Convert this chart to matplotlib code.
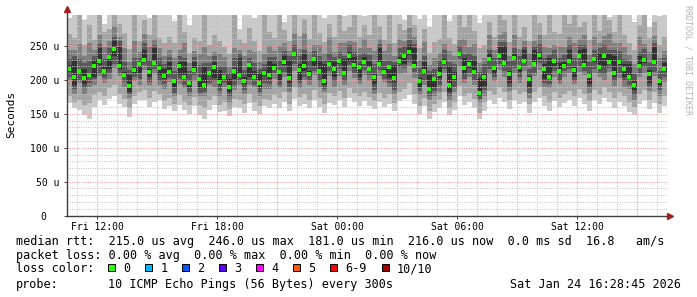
import numpy as np
import matplotlib.pyplot as plt
from matplotlib.patches import Rectangle

# canvas geometry (pixels)
W, H = 697, 297

# --- data: 120 samples, 15 min apart, Fri 10:28:45 -> Sat 16:28:45 (values in microseconds)
t_start = 10 + 28.75 / 60   # hours since Fri 00:00
t_step = 0.25

med = [216, 204, 213, 203, 207, 220, 228, 214, 234, 246, 221, 208, 191, 215, 224, 230, 212, 225, 218, 206,
       212, 198, 221, 205, 196, 215, 201, 193, 210, 219, 197, 205, 189, 214, 208, 199, 222, 204, 195, 210,
       207, 218, 212, 226, 203, 238, 215, 220, 209, 231, 214, 199, 224, 217, 228, 211, 236, 222, 219, 226,
       216, 205, 224, 212, 219, 203, 228, 236, 242, 221, 198, 213, 187, 201, 209, 226, 193, 205, 239, 218,
       224, 212, 181, 204, 231, 218, 236, 225, 209, 232, 219, 228, 201, 224, 237, 216, 205, 228, 213, 221,
       228, 215, 236, 222, 206, 231, 219, 235, 227, 210, 226, 216, 204, 193, 221, 230, 209, 226, 198, 216]

# sorted pings: lo1/hi1 outermost ... lo5/hi5 innermost
lo1 = [166, 158, 156, 148, 143, 160, 170, 163, 172, 176, 165, 160, 146, 164, 170, 171, 160, 168, 171, 157,
       161, 155, 163, 156, 150, 161, 148, 142, 156, 163, 153, 155, 147, 160, 158, 152, 166, 155, 150, 161,
       158, 165, 159, 168, 154, 172, 161, 165, 158, 170, 160, 152, 166, 163, 171, 160, 173, 167, 162, 169,
       162, 157, 168, 160, 165, 154, 169, 172, 178, 165, 150, 161, 142, 153, 158, 168, 148, 156, 176, 163,
       168, 158, 143, 155, 170, 164, 173, 167, 157, 171, 165, 168, 152, 167, 174, 162, 155, 169, 160, 166,
       170, 162, 173, 165, 155, 170, 164, 174, 168, 159, 167, 162, 153, 148, 165, 170, 157, 166, 151, 162]
lo2 = [176, 168, 171, 163, 166, 178, 183, 176, 188, 193, 180, 172, 158, 176, 182, 186, 173, 184, 180, 169,
       173, 165, 178, 167, 163, 175, 163, 158, 170, 176, 163, 168, 157, 172, 170, 164, 180, 167, 161, 172,
       170, 178, 173, 182, 165, 189, 175, 179, 171, 186, 174, 164, 181, 177, 184, 173, 188, 181, 177, 183,
       175, 169, 181, 173, 179, 166, 183, 187, 195, 180, 162, 174, 155, 165, 171, 182, 159, 168, 191, 177,
       181, 172, 152, 168, 184, 178, 189, 182, 171, 186, 179, 183, 165, 182, 189, 176, 168, 183, 174, 180,
       184, 176, 187, 180, 169, 185, 178, 190, 183, 173, 182, 177, 167, 160, 180, 185, 171, 182, 165, 177]
lo3 = [200, 180, 196, 180, 190, 192, 206, 196, 201, 218, 206, 189, 173, 199, 192, 215, 192, 209, 192, 187,
       197, 176, 194, 188, 176, 199, 176, 177, 192, 190, 177, 190, 168, 186, 192, 180, 193, 189, 177, 187,
       187, 201, 188, 204, 183, 214, 188, 200, 192, 207, 190, 182, 206, 190, 206, 192, 213, 203, 194, 207,
       199, 179, 206, 197, 189, 180, 209, 210, 220, 203, 178, 192, 171, 177, 183, 211, 169, 183, 221, 195,
       205, 192, 167, 176, 209, 198, 215, 204, 184, 211, 196, 214, 173, 206, 215, 189, 188, 204, 194, 205,
       210, 194, 212, 207, 181, 210, 205, 200, 212, 191, 203, 189, 187, 170, 205, 210, 184, 206, 177, 197]
lo4 = [205, 187, 200, 188, 196, 201, 211, 203, 211, 224, 210, 197, 179, 204, 201, 222, 197, 217, 198, 194,
       203, 181, 202, 192, 183, 208, 181, 183, 196, 198, 184, 195, 177, 192, 200, 185, 200, 193, 183, 195,
       194, 210, 193, 212, 189, 224, 195, 205, 200, 213, 199, 187, 213, 198, 216, 198, 222, 210, 199, 215,
       207, 185, 215, 202, 196, 186, 219, 218, 227, 212, 184, 200, 176, 184, 192, 217, 177, 190, 231, 201,
       211, 200, 172, 185, 216, 204, 223, 214, 189, 218, 205, 220, 181, 211, 225, 196, 194, 213, 199, 213,
       217, 199, 221, 213, 189, 217, 210, 209, 218, 199, 210, 199, 193, 178, 210, 219, 191, 212, 185, 204]
lo5 = [212, 192, 210, 194, 205, 205, 222, 211, 216, 236, 216, 206, 183, 211, 211, 227, 205, 223, 207, 201,
       209, 189, 207, 203, 190, 212, 190, 189, 208, 203, 192, 202, 182, 202, 206, 194, 204, 201, 189, 206,
       202, 215, 200, 222, 195, 236, 200, 214, 206, 221, 210, 192, 222, 204, 223, 208, 227, 218, 205, 224,
       213, 194, 220, 210, 203, 197, 225, 223, 237, 219, 190, 209, 184, 189, 203, 224, 183, 200, 236, 209,
       218, 210, 177, 191, 228, 209, 231, 223, 195, 228, 212, 225, 190, 222, 231, 201, 202, 220, 209, 219,
       225, 205, 232, 220, 194, 226, 216, 219, 225, 204, 222, 205, 201, 185, 219, 225, 196, 223, 192, 212]
hi5 = [222, 229, 217, 217, 210, 229, 248, 219, 237, 258, 249, 212, 208, 221, 227, 245, 217, 247, 222, 216,
       227, 202, 227, 227, 199, 226, 206, 219, 214, 226, 215, 208, 202, 218, 232, 205, 225, 213, 211, 215,
       228, 223, 215, 236, 230, 242, 223, 238, 214, 234, 228, 223, 228, 226, 231, 231, 242, 234, 223, 234,
       228, 209, 247, 217, 222, 222, 234, 240, 252, 247, 203, 227, 207, 205, 220, 231, 221, 212, 242, 233,
       228, 230, 203, 210, 240, 221, 249, 250, 213, 239, 222, 244, 206, 244, 241, 224, 232, 231, 225, 226,
       245, 219, 244, 246, 211, 234, 240, 239, 238, 236, 229, 223, 223, 198, 235, 233, 215, 249, 202, 225]
hi4 = [231, 235, 231, 225, 228, 236, 253, 231, 247, 264, 257, 227, 215, 232, 233, 254, 230, 252, 232, 224,
       234, 214, 236, 232, 213, 234, 222, 225, 225, 235, 220, 221, 210, 233, 238, 215, 232, 225, 216, 224,
       234, 234, 229, 243, 235, 252, 236, 244, 229, 243, 235, 229, 240, 234, 241, 236, 251, 241, 237, 240,
       237, 223, 253, 228, 230, 227, 247, 250, 259, 253, 218, 235, 213, 217, 229, 245, 226, 223, 250, 239,
       240, 236, 212, 224, 245, 232, 256, 256, 228, 247, 235, 249, 216, 250, 253, 233, 237, 245, 232, 237,
       251, 232, 252, 251, 226, 244, 247, 251, 244, 245, 243, 231, 228, 209, 242, 246, 225, 254, 214, 233]
hi3 = [245, 244, 253, 236, 254, 244, 266, 249, 257, 280, 264, 247, 227, 257, 242, 268, 249, 260, 247, 235,
       244, 232, 244, 254, 225, 243, 238, 249, 236, 242, 239, 234, 219, 248, 244, 236, 244, 242, 226, 238,
       250, 243, 250, 255, 243, 270, 246, 269, 242, 252, 252, 240, 262, 242, 255, 255, 258, 256, 247, 260,
       248, 243, 261, 243, 253, 236, 261, 257, 277, 263, 230, 256, 222, 233, 240, 253, 243, 236, 259, 261,
       249, 253, 225, 232, 266, 244, 266, 271, 235, 266, 246, 258, 240, 258, 266, 249, 247, 252, 250, 249,
       264, 254, 261, 267, 237, 264, 255, 265, 269, 255, 255, 249, 237, 224, 263, 253, 242, 265, 233, 243]
hi2 = [268, 262, 300, 251, 281, 259, 300, 271, 275, 300, 283, 270, 246, 300, 258, 289, 266, 300, 262, 255,
       263, 255, 300, 271, 240, 262, 257, 300, 251, 266, 258, 249, 238, 300, 260, 255, 277, 258, 243, 300,
       271, 262, 300, 274, 258, 300, 265, 290, 261, 300, 270, 256, 283, 263, 300, 272, 279, 300, 264, 281,
       266, 300, 280, 259, 300, 255, 283, 274, 300, 281, 248, 275, 240, 256, 261, 300, 262, 253, 300, 279,
       300, 272, 248, 251, 285, 263, 300, 289, 256, 300, 264, 279, 258, 300, 284, 267, 300, 271, 268, 300,
       283, 300, 279, 285, 259, 300, 273, 300, 288, 271, 300, 266, 255, 245, 281, 300, 262, 286, 252, 264]
hi1 = [292, 320, 320, 289, 320, 320, 320, 283, 320, 320, 320, 296, 320, 320, 305, 320, 291, 320, 299, 320,
       320, 287, 320, 320, 281, 320, 320, 320, 298, 320, 320, 303, 320, 320, 276, 320, 320, 292, 320, 320,
       320, 320, 320, 285, 320, 320, 320, 320, 300, 320, 320, 291, 320, 320, 320, 294, 320, 320, 320, 295,
       320, 320, 320, 302, 320, 320, 320, 289, 320, 320, 290, 320, 279, 320, 320, 320, 287, 320, 320, 320,
       320, 320, 284, 320, 320, 320, 320, 296, 320, 320, 320, 320, 297, 320, 320, 320, 320, 320, 320, 320,
       320, 320, 320, 320, 300, 320, 320, 320, 293, 320, 320, 320, 298, 286, 320, 320, 279, 320, 294, 320]

smoke_colors = ['#cacaca', '#a4a4a4', '#7e7e7e', '#585858', '#323232']

x_ticks = [12, 18, 24, 30, 36]
x_labels = ['Fri 12:00', 'Fri 18:00', 'Sat 00:00', 'Sat 06:00', 'Sat 12:00']
y_ticks = [0, 50, 100, 150, 200, 250]
y_labels = ['0  ', '50 u', '100 u', '150 u', '200 u', '250 u']

stats_rtt = ['215.0 us avg', '246.0 us max', '181.0 us min', '216.0 us now', '0.0 ms sd', '16.8   am/s']
stats_loss = ['0.00 % avg', '0.00 % max', '0.00 % min', '0.00 % now']
loss_labels = ['0', '1', '2', '3', '4', '5', '6-9', '10/10']
loss_colors = ['#26ff00', '#00b8ff', '#0059ff', '#5e00ff', '#ff00ff', '#ff5500', '#ff0000', '#a10000']
probe_text = '10 ICMP Echo Pings (56 Bytes) every 300s'
stamp_text = 'Sat Jan 24 16:28:45 2026'

MONO = 'DejaVu Sans Mono'

def fx(px):
    return px / W

def fy(py):
    return 1 - py / H

fig = plt.figure(figsize=(W / 100, H / 100), dpi=100)
fig.patch.set_facecolor('white')

x0, x1 = 66.7, 666.7
y_top, y_bot = 15.0, 215.5
ax = fig.add_axes([fx(x0), fy(y_bot), (x1 - x0) / W, (y_bot - y_top) / H])
ax.set_facecolor('white')

n = len(med)
edges = t_start + t_step * np.arange(n + 1)
centers = edges[:-1] + t_step / 2

lows = [lo1, lo2, lo3, lo4, lo5]
highs = [hi1, hi2, hi3, hi4, hi5]
for lo, hi, c in zip(lows, highs, smoke_colors):
    lo = np.append(lo, lo[-1])
    hi = np.append(hi, hi[-1])
    ax.fill_between(edges, lo, hi, step='post', color=c, lw=0, zorder=1)

# grid drawn over the smoke like rrdtool does
x_lo, x_hi = t_start, t_start + t_step * n
for h in range(int(np.ceil(x_lo)), int(x_hi) + 1):
    col = '#f0a0a0' if h % 3 == 0 else '#c8c8c8'
    ax.axvline(h, color=col, lw=0.75, ls=(0, (1, 1.2)), zorder=2)
for v in range(10, 300, 10):
    col = '#f0a0a0' if v % 50 == 0 else '#c8c8c8'
    ax.axhline(v, color=col, lw=0.75, ls=(0, (1, 1.2)), zorder=2)

# median, coloured by loss (all 0 -> green)
ax.plot(centers, med, ls='none', marker='s', ms=2.6, mew=0, color=loss_colors[0], zorder=3)

ax.set_xlim(x_lo, x_hi)
ax.set_ylim(0, 296)
for s in ax.spines.values():
    s.set_visible(False)

ax.set_xticks(x_ticks)
ax.set_xticklabels(x_labels, family=MONO, fontsize=7)
ax.set_yticks(y_ticks)
ax.set_yticklabels(y_labels, family=MONO, fontsize=7)
ax.tick_params(axis='x', length=2, width=0.7, color='#404040', pad=2.5)
ax.tick_params(axis='y', length=2, width=0.7, color='#404040', pad=3.5)

# axis lines with arrow heads
ax.plot([0, 0], [0, 1.02], transform=ax.transAxes, color='#404040', lw=1, clip_on=False, zorder=4)
ax.plot([0, 1.003], [0, 0], transform=ax.transAxes, color='#404040', lw=1, clip_on=False, zorder=4)
ax.plot([0], [1.03], transform=ax.transAxes, marker='^', ms=4, color='#a02020', clip_on=False, zorder=5)
ax.plot([1.005], [0], transform=ax.transAxes, marker='>', ms=4, color='#a02020', clip_on=False, zorder=5)

fig.text(fx(11), fy(114.5), 'Seconds', rotation=90, ha='center', va='center', family=MONO, fontsize=8)
fig.text(fx(688), fy(5), 'RRDTOOL / TOBI OETIKER', rotation=270, ha='center', va='top',
         family=MONO, fontsize=6, color='#b4b4b4')

# legend block
txt = dict(family=MONO, fontsize=8.5, va='baseline', ha='left')
fig.text(fx(16), fy(244.5), 'median rtt:  ' + '  '.join(stats_rtt), **txt)
fig.text(fx(16), fy(259.5), 'packet loss: ' + '  '.join(stats_loss), **txt)
fig.text(fx(16), fy(272.5), 'loss color:', **txt)
bx = 108.3
for lab, col in zip(loss_labels, loss_colors):
    fig.add_artist(Rectangle((fx(bx), fy(271)), 7 / W, 7 / H, transform=fig.transFigure,
                             facecolor=col, edgecolor='black', lw=0.7))
    fig.text(fx(bx + 15), fy(272.5), lab, **txt)
    bx += 15 + 7.1 * len(lab) + 14.9
fig.text(fx(16), fy(288), 'probe:', **txt)
fig.text(fx(107.5), fy(288), probe_text, **txt)
fig.text(fx(681), fy(288), stamp_text, family=MONO, fontsize=8.5, va='baseline', ha='right')

fig.savefig('out.png', dpi=100, facecolor='white')
